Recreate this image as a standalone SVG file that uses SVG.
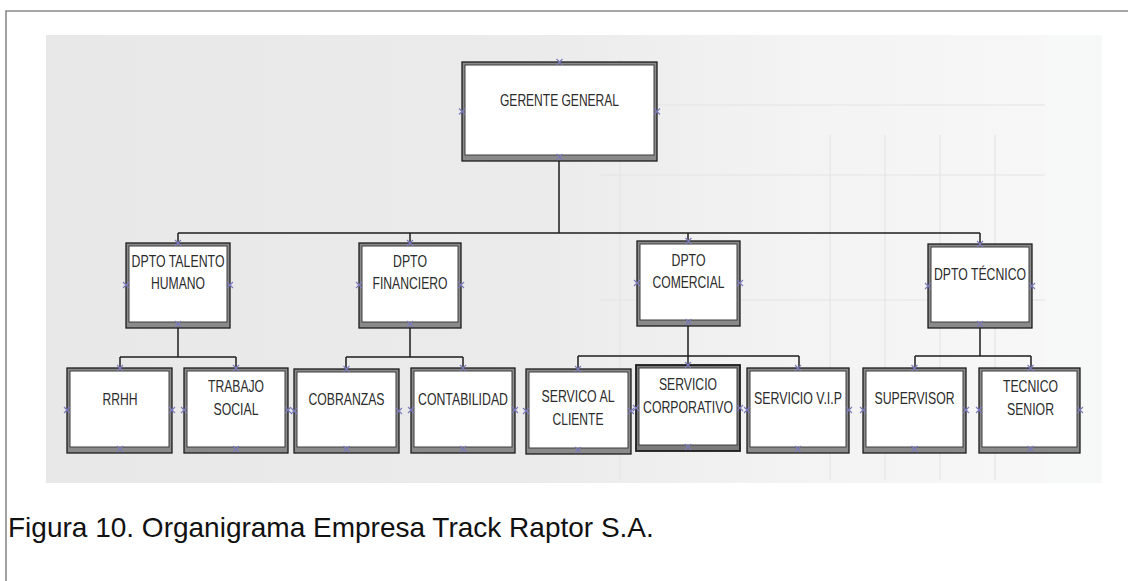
<svg xmlns="http://www.w3.org/2000/svg" xmlns:xlink="http://www.w3.org/1999/xlink" width="1128" height="581" viewBox="0 0 1128 581">
<style>
.frame{fill:none;stroke:#8a8a8a;stroke-width:1.6}
.ob{fill:#8a8a8a;stroke:#1c1c1c;stroke-width:1.3}
.ib{fill:#ffffff;stroke:#3c3c3c;stroke-width:1}
.t{font-family:"Liberation Sans",Arial,sans-serif;font-size:16.5px;fill:#2b2b2b;text-anchor:middle}
.cap{font-family:"Liberation Sans",Arial,sans-serif;font-size:28px;fill:#111111}
.con{fill:none;stroke:#1e1e1e;stroke-width:1.5}
.grid{stroke:#e4e4e4;stroke-width:1.2;fill:none}
</style>
<defs>
<linearGradient id="bg" x1="0" y1="0" x2="1" y2="0">
<stop offset="0" stop-color="#e8e8e8"/>
<stop offset="0.5" stop-color="#ebebeb"/>
<stop offset="0.75" stop-color="#f3f3f3"/>
<stop offset="1" stop-color="#f7f7f7"/>
</linearGradient>
<symbol id="cp" overflow="visible"><path d="M-3,-3L3,3M-3,3L3,-3" stroke="#7a7abc" stroke-width="1.1" fill="none"/></symbol>
</defs>
<rect width="1128" height="581" fill="#ffffff"/>
<path class="frame" d="M6,581V11H1128"/>
<rect x="1046" y="35" width="56" height="448" fill="#f7f9f9"/>
<rect x="46" y="35" width="1000" height="448" fill="url(#bg)"/>
<g class="grid">
<path d="M830,135V480M885,135V480M940,135V480M995,135V480M620,60V480"/>
<path d="M600,105H1045M600,175H1045M600,300H1045"/>
</g>
<g id="connectors" class="con">
<path d="M559,161V233M178,233H980M178,233V243M410,233V243M688,233V241M980,233V244"/>
<path d="M178,328V357M120,357H236M120,357V368M236,357V368"/>
<path d="M410,328V357M346,357H463M346,357V369M463,357V368"/>
<path d="M688,326V365M578,356H799M578,356V369M799,356V368"/>
<path d="M980,328V356M915,356H1031M915,356V368M1031,356V368"/>
</g>
<g id="n-gerente">
<rect class="ob" x="462" y="62" width="195" height="99"/>
<rect class="ib" x="465" y="65" width="189" height="90"/>
<text class="t" x="559.5" y="106" textLength="119" lengthAdjust="spacingAndGlyphs">GERENTE GENERAL</text>
<use href="#cp" x="559.5" y="62"/><use href="#cp" x="559.5" y="157"/><use href="#cp" x="462" y="111.5"/><use href="#cp" x="657" y="111.5"/>
</g>
<g id="n-talento">
<rect class="ob" x="126" y="243" width="104" height="85"/>
<rect class="ib" x="129" y="246" width="98" height="76"/>
<text class="t" x="178" y="267" textLength="93" lengthAdjust="spacingAndGlyphs">DPTO TALENTO</text>
<text class="t" x="178" y="289" textLength="54" lengthAdjust="spacingAndGlyphs">HUMANO</text>
<use href="#cp" x="178" y="243"/><use href="#cp" x="178" y="324"/><use href="#cp" x="126" y="285"/><use href="#cp" x="230" y="285"/>
</g>
<g id="n-financiero">
<rect class="ob" x="359" y="243" width="102" height="85"/>
<rect class="ib" x="362" y="246" width="96" height="76"/>
<text class="t" x="410" y="267" textLength="34" lengthAdjust="spacingAndGlyphs">DPTO</text>
<text class="t" x="410" y="289" textLength="75" lengthAdjust="spacingAndGlyphs">FINANCIERO</text>
<use href="#cp" x="410" y="243"/><use href="#cp" x="410" y="324"/><use href="#cp" x="359" y="285"/><use href="#cp" x="461" y="285"/>
</g>
<g id="n-comercial">
<rect class="ob" x="637" y="241" width="103" height="85"/>
<rect class="ib" x="640" y="244" width="97" height="76"/>
<text class="t" x="688.5" y="266" textLength="34" lengthAdjust="spacingAndGlyphs">DPTO</text>
<text class="t" x="688.5" y="288" textLength="72" lengthAdjust="spacingAndGlyphs">COMERCIAL</text>
<use href="#cp" x="688.5" y="241"/><use href="#cp" x="688.5" y="322"/><use href="#cp" x="637" y="283"/><use href="#cp" x="740" y="283"/>
</g>
<g id="n-tecnico">
<rect class="ob" x="928" y="244" width="104" height="84"/>
<rect class="ib" x="931" y="247" width="98" height="75"/>
<text class="t" x="980" y="280" textLength="92" lengthAdjust="spacingAndGlyphs">DPTO TÉCNICO</text>
<use href="#cp" x="980" y="244"/><use href="#cp" x="980" y="324"/><use href="#cp" x="928" y="286"/><use href="#cp" x="1032" y="286"/>
</g>
<g id="n-rrhh">
<rect class="ob" x="67" y="368" width="105" height="85"/>
<rect class="ib" x="70" y="371" width="99" height="76"/>
<text class="t" x="120" y="405" textLength="35" lengthAdjust="spacingAndGlyphs">RRHH</text>
<use href="#cp" x="120" y="368"/><use href="#cp" x="120" y="449"/><use href="#cp" x="67" y="410"/><use href="#cp" x="172" y="410"/>
</g>
<g id="n-trabajo">
<rect class="ob" x="184" y="368" width="104" height="85"/>
<rect class="ib" x="187" y="371" width="98" height="76"/>
<text class="t" x="236" y="392" textLength="56" lengthAdjust="spacingAndGlyphs">TRABAJO</text>
<text class="t" x="236" y="415" textLength="45" lengthAdjust="spacingAndGlyphs">SOCIAL</text>
<use href="#cp" x="236" y="368"/><use href="#cp" x="236" y="449"/><use href="#cp" x="184" y="410"/><use href="#cp" x="288" y="410"/>
</g>
<g id="n-cobranzas">
<rect class="ob" x="294" y="369" width="105" height="84"/>
<rect class="ib" x="297" y="372" width="99" height="75"/>
<text class="t" x="346.5" y="405" textLength="76" lengthAdjust="spacingAndGlyphs">COBRANZAS</text>
<use href="#cp" x="346.5" y="369"/><use href="#cp" x="346.5" y="449"/><use href="#cp" x="294" y="411"/><use href="#cp" x="399" y="411"/>
</g>
<g id="n-contabilidad">
<rect class="ob" x="411" y="368" width="104" height="85"/>
<rect class="ib" x="414" y="371" width="98" height="76"/>
<text class="t" x="463" y="405" textLength="90" lengthAdjust="spacingAndGlyphs">CONTABILIDAD</text>
<use href="#cp" x="463" y="368"/><use href="#cp" x="463" y="449"/><use href="#cp" x="411" y="410"/><use href="#cp" x="515" y="410"/>
</g>
<g id="n-cliente">
<rect class="ob" x="526" y="369" width="105" height="85"/>
<rect class="ib" x="529" y="372" width="99" height="76"/>
<text class="t" x="578" y="402" textLength="73" lengthAdjust="spacingAndGlyphs">SERVICO AL</text>
<text class="t" x="578" y="425" textLength="51" lengthAdjust="spacingAndGlyphs">CLIENTE</text>
<use href="#cp" x="578" y="369"/><use href="#cp" x="578" y="450"/><use href="#cp" x="526" y="411"/><use href="#cp" x="631" y="411"/>
</g>
<g id="n-corporativo">
<rect class="ob" x="636" y="365" width="104" height="86" style="stroke-width:1.8;fill:#7a7a7a"/>
<rect class="ib" x="639" y="368" width="98" height="77"/>
<text class="t" x="688" y="390" textLength="58" lengthAdjust="spacingAndGlyphs">SERVICIO</text>
<text class="t" x="688" y="413" textLength="90" lengthAdjust="spacingAndGlyphs">CORPORATIVO</text>
<use href="#cp" x="688" y="365"/><use href="#cp" x="688" y="447"/><use href="#cp" x="636" y="408"/><use href="#cp" x="740" y="408"/>
</g>
<g id="n-vip">
<rect class="ob" x="747" y="368" width="102" height="85"/>
<rect class="ib" x="750" y="371" width="96" height="76"/>
<text class="t" x="798" y="404" textLength="88" lengthAdjust="spacingAndGlyphs">SERVICIO V.I.P</text>
<use href="#cp" x="798" y="368"/><use href="#cp" x="798" y="449"/><use href="#cp" x="747" y="410"/><use href="#cp" x="849" y="410"/>
</g>
<g id="n-supervisor">
<rect class="ob" x="863" y="368" width="103" height="85"/>
<rect class="ib" x="866" y="371" width="97" height="76"/>
<text class="t" x="914.5" y="404" textLength="80" lengthAdjust="spacingAndGlyphs">SUPERVISOR</text>
<use href="#cp" x="914.5" y="368"/><use href="#cp" x="914.5" y="449"/><use href="#cp" x="863" y="410"/><use href="#cp" x="966" y="410"/>
</g>
<g id="n-senior">
<rect class="ob" x="979" y="368" width="101" height="85"/>
<rect class="ib" x="982" y="371" width="95" height="76"/>
<text class="t" x="1030.5" y="392" textLength="55" lengthAdjust="spacingAndGlyphs">TECNICO</text>
<text class="t" x="1030.5" y="415" textLength="47" lengthAdjust="spacingAndGlyphs">SENIOR</text>
<use href="#cp" x="1030.5" y="368"/><use href="#cp" x="1030.5" y="449"/><use href="#cp" x="979" y="410"/><use href="#cp" x="1080" y="410"/>
</g>
<text class="cap" x="8" y="537">Figura 10. Organigrama Empresa Track Raptor S.A.</text>
</svg>
